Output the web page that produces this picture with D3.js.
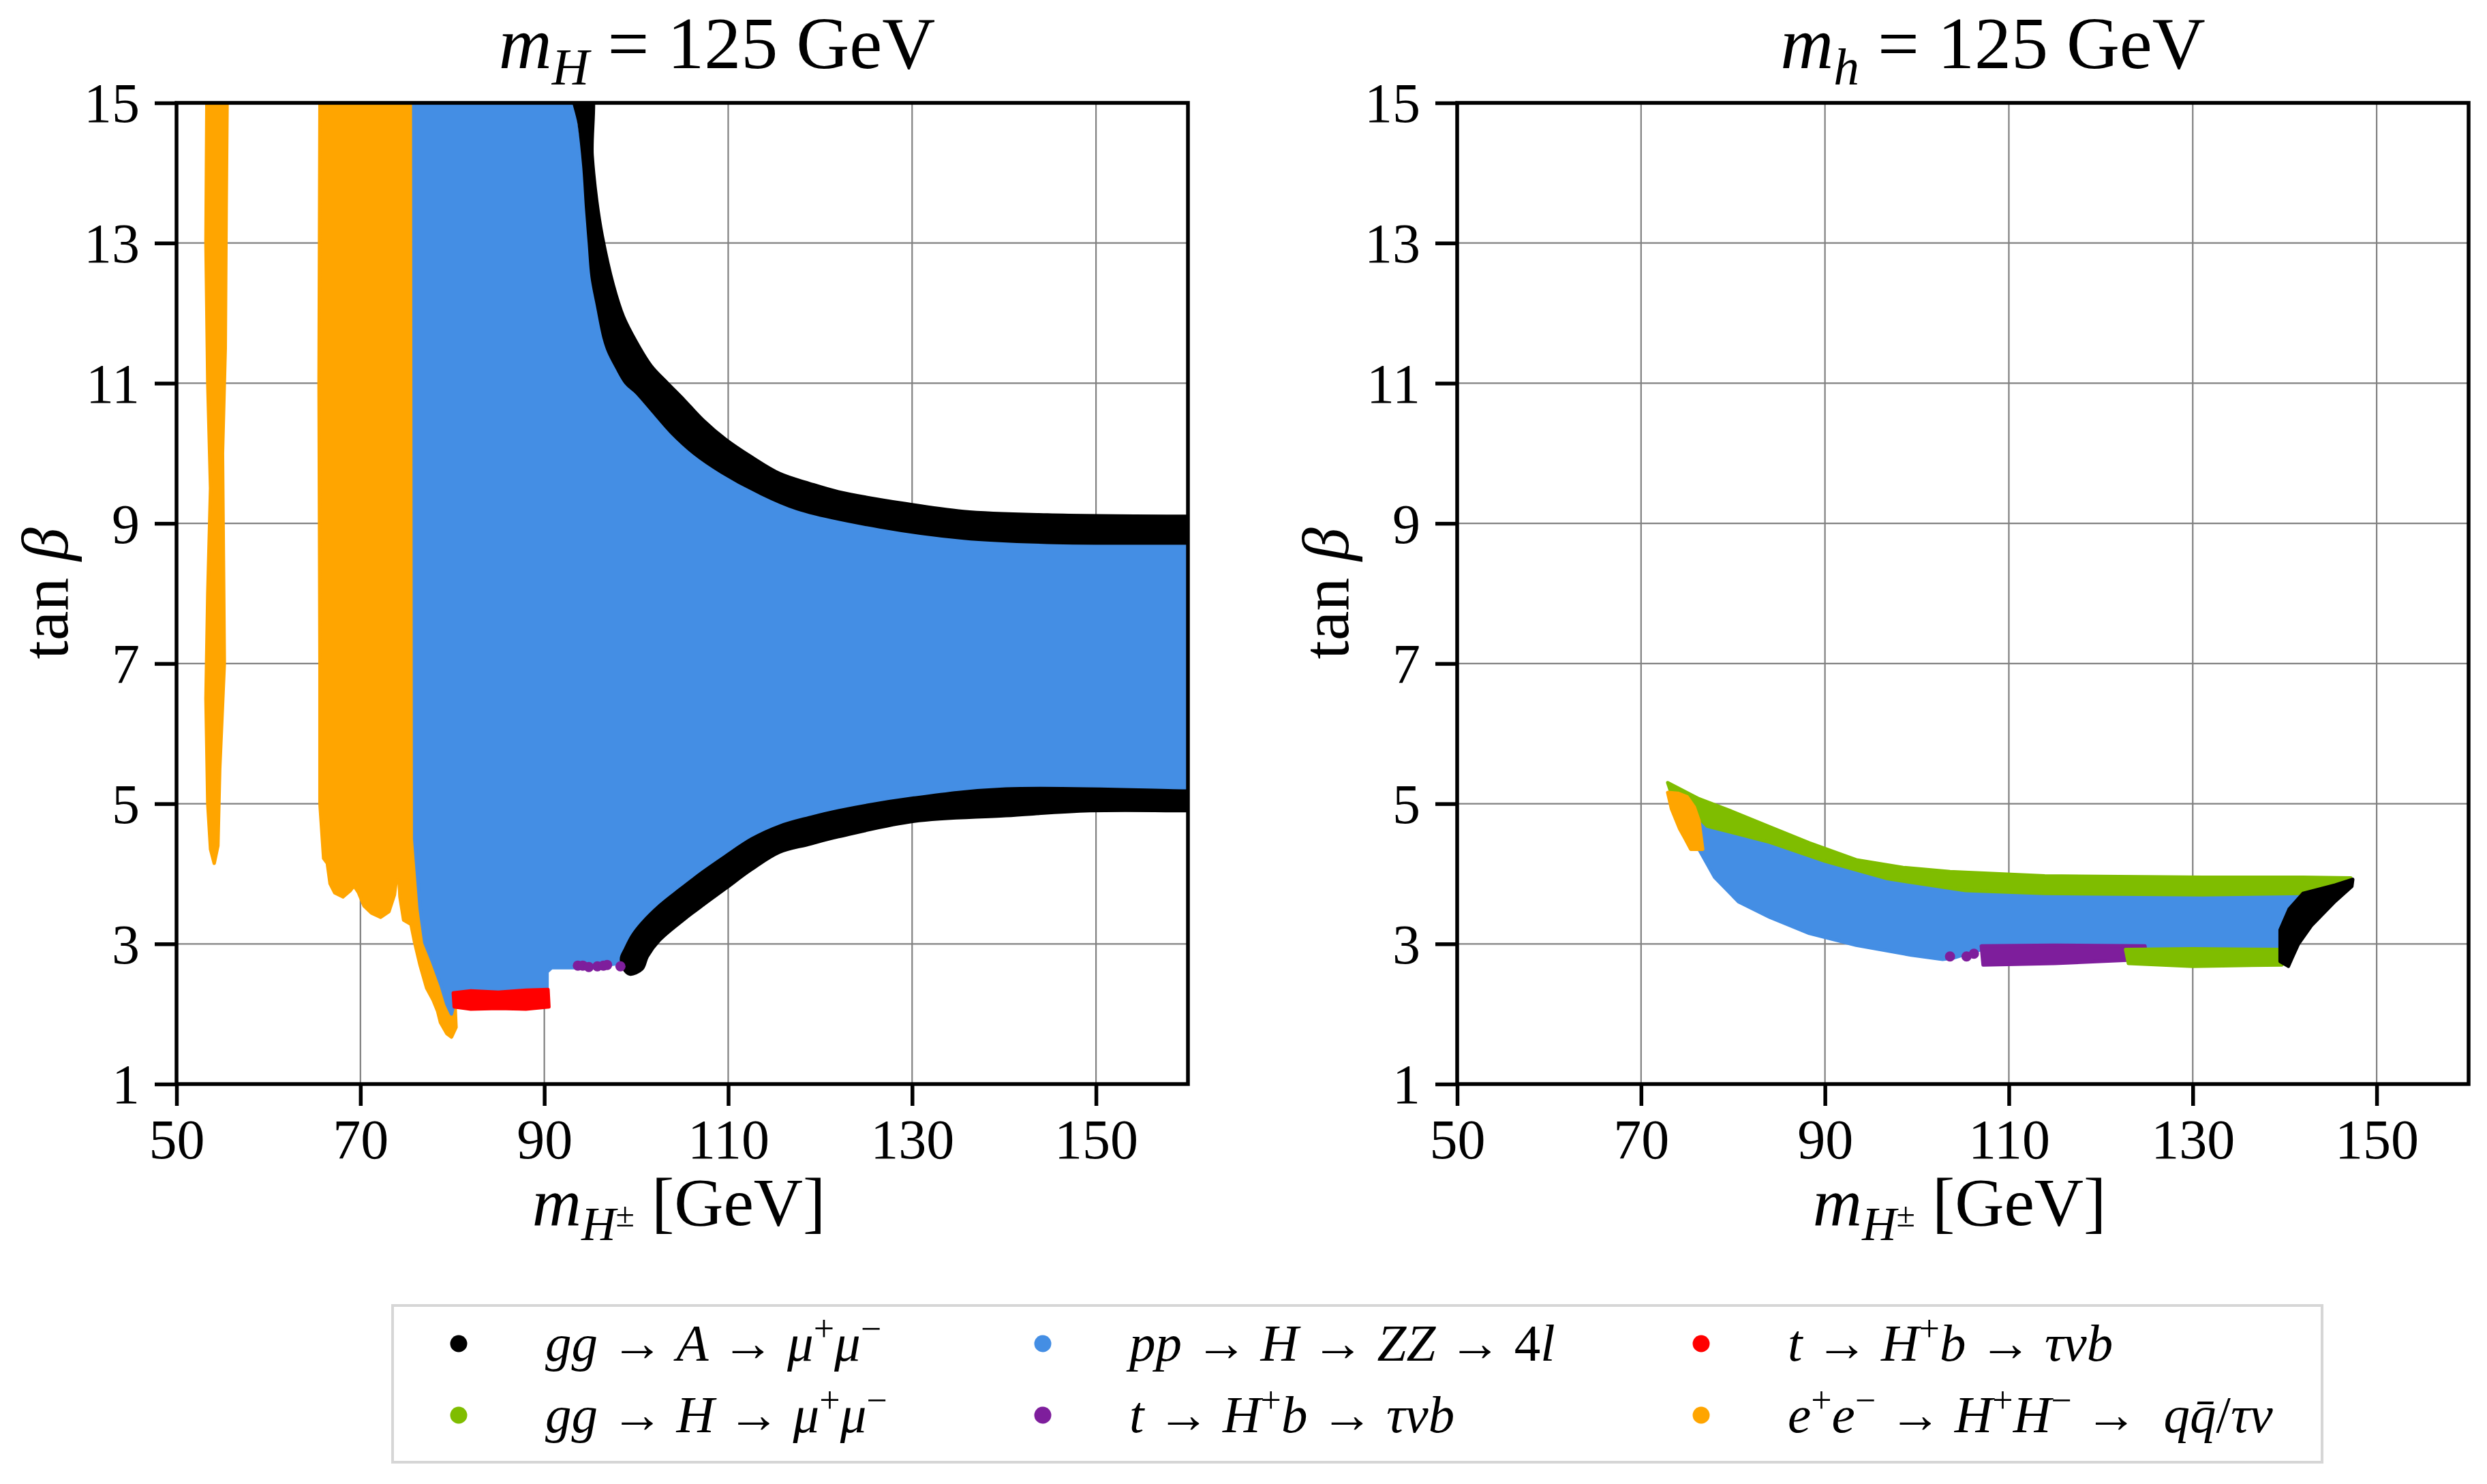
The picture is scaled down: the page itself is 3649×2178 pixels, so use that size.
<!DOCTYPE html>
<html>
<head>
<meta charset="utf-8">
<script src="https://cdn.jsdelivr.net/npm/d3@7"></script>
<style>
  body { margin: 0; background: #fff; }
  text { font-family: "Liberation Serif", "DejaVu Serif", serif; fill: #000; }
</style>
</head>
<body>
<svg id="chart" width="3649" height="2178"></svg>
<script>
// ---- data ----
let xTicks = [50, 70, 90, 110, 130, 150];
let yTicks = [1, 3, 5, 7, 9, 11, 13, 15];

// series: colour per process
let seriesColors = {
  ggA: '#000000',
  ggH: '#7fbd00',
  ppH: '#448ee4',
  tauRed: '#ff0000',
  tauPurple: '#7e1e9c',
  eeHH: '#ffa500'
};

// left panel (m_H = 125 GeV), region outlines [m_H±, tan beta]
let leftOrangeStrip = [[53.3,15],[53.2,13],[53.4,11],[53.7,9.5],[53.4,8],[53.2,6.5],[53.4,5],[53.7,4.35],[54.1,4.15],
  [54.5,4.4],[54.7,5.5],[55.2,7],[55.1,8.5],[55.0,10],[55.3,11.5],[55.4,13.5],[55.5,15]];
let leftOrangeBlock = [[65.6,15],[65.5,11],[65.6,7],[65.6,5],[66.0,4.22],[66.4,4.15],[66.7,3.86],[67.2,3.73],[68.1,3.67],
  [68.9,3.76],[69.3,3.83],[69.8,3.73],[70.4,3.54],[71.2,3.44],[72.2,3.38],[73.1,3.46],[73.7,3.7],[73.9,3.91],[74.2,3.9],
  [74.3,3.67],[74.7,3.34],[75.5,3.28],[75.9,3.02],[76.5,2.69],[77.2,2.37],[77.9,2.2],[78.4,2.04],[78.7,1.88],[79.4,1.72],
  [79.9,1.67],[80.4,1.81],[80.3,2.1],[79.5,2.4],[78.0,3.0],[76.6,3.8],[76.1,5],[76.1,15]];
let leftBlue = [[75.8,15],[93.1,15],[94.0,14.2],[94.7,13.37],[95.2,12.5],[96.5,11.63],[97.9,11.2],[100,10.85],[103.8,10.33],
  [109.3,9.71],[117.5,9.19],[126.5,8.93],[135.6,8.77],[144.7,8.71],[160,8.71],[160,5.2],[140.2,5.23],[130.2,5.1],[122,4.92],
  [115.6,4.7],[109.7,4.27],[104.7,3.79],[102.6,3.6],[100.6,3.31],[98.8,2.92],[98.2,2.72],[94,2.66],[90.8,2.66],[90.3,2.6],
  [90.3,2.3],[80.4,2.25],[79.9,2.0],[79.4,2.14],[78.8,2.4],[77.8,2.76],[77,3.02],[76.5,3.5],[75.9,4.5]];
let leftBlackUpper = [[93.0,15.3],[94.9,15.3],[95.2,14.25],[95.7,13.6],[96.3,13.1],[97.5,12.4],[98.6,11.95],[99.95,11.6],
  [101.6,11.25],[103.4,11.0],[105.2,10.76],[107.3,10.47],[109.7,10.2],[112.5,9.95],[115.6,9.71],[118.8,9.57],[122,9.45],
  [129.3,9.28],[135.6,9.17],[144.7,9.12],[160,9.1],[162,9.1],[162,8.72],[160,8.72],[144.7,8.73],[135.6,8.79],[126.5,8.95],
  [117.5,9.21],[113.2,9.45],[109.3,9.73],[106.3,10.0],[103.8,10.3],[101.8,10.6],[100,10.87],[98.9,11.0],[97.9,11.22],
  [97.0,11.45],[96.5,11.65],[95.8,12.1],[95.2,12.52],[94.9,13.0],[94.6,13.5],[94.3,14.1],[93.8,14.7]];
let leftBlackLower = [[162,4.9],[160,4.9],[149.3,4.9],[140.2,4.83],[130.2,4.75],[122,4.53],[118.7,4.42],[115.6,4.31],
  [112.5,4.06],[109.7,3.79],[107.3,3.56],[105.2,3.35],[102.5,3.05],[101.2,2.82],[100.6,2.64],[99.3,2.57],[98.6,2.66],
  [98.4,2.8],[98.8,2.92],[99.6,3.12],[100.6,3.29],[102.6,3.55],[104.7,3.77],[107.2,4.02],[109.7,4.25],[112.6,4.5],
  [115.6,4.68],[118.8,4.8],[122,4.9],[130.2,5.08],[140.2,5.21],[160,5.18],[162,5.18]];
let leftRed = [[80.1,2.3],[82,2.33],[85,2.31],[88,2.34],[90.4,2.35],[90.5,2.1],[88,2.07],[85,2.08],[82,2.07],[80.2,2.1]];
let leftPurplePoints = [[93.65,2.69],[94.18,2.69],[94.84,2.67],[95.77,2.68],[96.43,2.69],[96.83,2.7],[98.28,2.68]];

// right panel (m_h = 125 GeV)
let rightGreenUpper = [[72.9,5.3],[76.3,5.07],[79.7,4.9],[84,4.67],[88.3,4.44],[93.4,4.2],[98.5,4.09],[103.6,4.03],
  [113.9,3.97],[131,3.95],[142,3.95],[147.2,3.94],[142,3.72],[131,3.7],[113.9,3.72],[105.3,3.76],[96.8,3.93],[90,4.18],
  [84,4.45],[77.2,4.68],[75.5,4.9],[73.4,5.1]];
let rightBlue = [[76.3,4.75],[84,4.5],[90,4.22],[96.8,3.97],[105.3,3.8],[113.9,3.76],[131,3.74],[142.3,3.76],[141,3.4],
  [140,3.1],[139.5,2.92],[124.5,2.95],[115,2.95],[107,2.92],[104,2.8],[102.8,2.78],[99.4,2.84],[93.4,2.98],[88.3,3.15],
  [84,3.38],[80.6,3.6],[78,3.95],[76.3,4.35]];
let rightPurple = [[107,2.97],[115,2.98],[124.8,2.97],[125,2.78],[115,2.72],[107.2,2.7]];
let rightPurplePoints = [[103.6,2.82],[105.4,2.82],[106.2,2.86]];
let rightGreenLower = [[122.7,2.92],[130,2.93],[139.5,2.92],[139.7,2.7],[130,2.68],[123,2.72]];
let rightBlack = [[139.5,2.75],[139.5,3.2],[140.5,3.5],[142,3.72],[145.5,3.84],[147.4,3.92],[147.3,3.82],[145.5,3.61],
  [142.9,3.26],[141.5,3.0],[140.8,2.8],[140.4,2.68]];
let rightOrange = [[72.9,5.16],[74,5.15],[75,5.1],[75.8,4.95],[76.3,4.76],[76.7,4.35],[75.4,4.35],[74.8,4.5],[74.2,4.64],[73.3,4.93]];

// legend (matplotlib ncol=3, filled column by column)
let legendKeys = ['ggA', 'ggH', 'ppH', 'tauPurple', 'tauRed', 'eeHH'];
let legendLabels = [
  [['gg',1],[' → ',0],['A',1],[' → ',0],['μ',1],['+',0,'sup'],['μ',1],['−',0,'sup']],
  [['gg',1],[' → ',0],['H',1],[' → ',0],['μ',1],['+',0,'sup'],['μ',1],['−',0,'sup']],
  [['pp',1],[' → ',0],['H',1],[' → ',0],['ZZ',1],[' → ',0],['4',0],['l',1]],
  [['t',1],[' → ',0],['H',1],['+',0,'sup'],['b',1],[' → ',0],['τνb',1]],
  [['t',1],[' → ',0],['H',1],['+',0,'sup'],['b',1],[' → ',0],['τνb',1]],
  [['e',1],['+',0,'sup'],['e',1],['−',0,'sup'],[' → ',0],['H',1],['+',0,'sup'],['H',1],['−',0,'sup'],[' →  ',0],['q',1],['q̄',1],['/',0],['τν',1]]
];

// ---- drawing ----
let svg = d3.select('#chart');

// add a run of math-ish text made of [text, italic, shift] parts
let mathText = (sel, parts, size) => {
  let cur = 0;
  parts.forEach((p) => {
    let shift = 0, fs = size;
    if (p[2] === 'sup') { shift = -0.38 * size; fs = size * 0.7; }
    if (p[2] === 'sub') { shift = 0.22 * size; fs = size * 0.7; }
    if (p[2] === 'subsup') { shift = 0.02 * size; fs = size * 0.5; }
    sel.append('tspan')
      .attr('dy', shift - cur)
      .style('font-style', p[1] ? 'italic' : 'normal')
      .style('font-size', fs + 'px')
      .style('white-space', 'pre')
      .text(p[0]);
    cur = shift;
  });
};

let panels = [
  { x0: 259, title: [['m',1],['H',1,'sub'],[' = 125 GeV',0]], titleX: 1052,
    layers: [
      { d: leftOrangeStrip, c: 'eeHH' }, { d: leftOrangeBlock, c: 'eeHH' }, { d: leftBlue, c: 'ppH' },
      { d: leftBlackUpper, c: 'ggA', smooth: true }, { d: leftBlackLower, c: 'ggA', smooth: true }, { d: leftRed, c: 'tauRed' }
    ],
    points: [{ d: leftPurplePoints, c: 'tauPurple' }] },
  { x0: 2138, title: [['m',1],['h',1,'sub'],[' = 125 GeV',0]], titleX: 2924,
    layers: [
      { d: rightBlue, c: 'ppH' }, { d: rightGreenUpper, c: 'ggH' }, { d: rightPurple, c: 'tauPurple' },
      { d: rightGreenLower, c: 'ggH' }, { d: rightBlack, c: 'ggA' }, { d: rightOrange, c: 'eeHH' }
    ],
    points: [{ d: rightPurplePoints, c: 'tauPurple' }] }
];

let W = 1484, H = 1440, plotTop = 151;

panels.forEach((p, i) => {
  let x = d3.scaleLinear().domain([50, 160]).range([p.x0, p.x0 + W]);
  let y = d3.scaleLinear().domain([1, 15]).range([plotTop + H, plotTop]);
  let g = svg.append('g');

  // grid
  g.selectAll('.gx').data(xTicks).enter().append('line')
    .attr('x1', (d) => x(d)).attr('x2', (d) => x(d)).attr('y1', plotTop).attr('y2', plotTop + H)
    .attr('stroke', '#808080').attr('stroke-width', 2.2);
  g.selectAll('.gy').data(yTicks).enter().append('line')
    .attr('x1', p.x0).attr('x2', p.x0 + W).attr('y1', (d) => y(d)).attr('y2', (d) => y(d))
    .attr('stroke', '#808080').attr('stroke-width', 2.2);

  // regions
  let clipId = 'clip' + i;
  svg.append('clipPath').attr('id', clipId).append('rect')
    .attr('x', p.x0).attr('y', plotTop).attr('width', W).attr('height', H);
  let area = g.append('g').attr('clip-path', 'url(#' + clipId + ')');
  let line = d3.line().x((d) => x(d[0])).y((d) => y(d[1])).curve(d3.curveLinearClosed);
  let smoothLine = d3.line().x((d) => x(d[0])).y((d) => y(d[1])).curve(d3.curveCatmullRomClosed.alpha(0.5));
  area.selectAll('.region').data(p.layers).enter().append('path')
    .attr('d', (d) => (d.smooth ? smoothLine : line)(d.d))
    .attr('fill', (d) => seriesColors[d.c])
    .attr('stroke', (d) => seriesColors[d.c])
    .attr('stroke-width', 5)
    .attr('stroke-linejoin', 'round');
  p.points.forEach((s) => {
    area.selectAll(null).data(s.d).enter().append('circle')
      .attr('cx', (d) => x(d[0])).attr('cy', (d) => y(d[1])).attr('r', 7.5)
      .attr('fill', seriesColors[s.c]);
  });

  // axes
  let xAxis = d3.axisBottom(x).tickValues(xTicks).tickSize(32).tickPadding(18).tickFormat(d3.format('d'));
  let yAxis = d3.axisLeft(y).tickValues(yTicks).tickSize(32).tickPadding(22).tickFormat(d3.format('d'));
  let gx = g.append('g').attr('transform', 'translate(0,' + (plotTop + H) + ')').call(xAxis);
  let gy = g.append('g').attr('transform', 'translate(' + p.x0 + ',0)').call(yAxis);
  [gx, gy].forEach((a) => {
    a.select('.domain').remove();
    a.selectAll('.tick line').attr('stroke', '#000').attr('stroke-width', 5.5);
    a.selectAll('.tick text').style('font-size', '82px').style('font-family', '"Liberation Serif", serif');
  });
  gy.selectAll('.tick text').attr('dy', '0.34em');
  gx.selectAll('.tick text').attr('dy', '0.72em');

  // frame
  g.append('rect').attr('x', p.x0).attr('y', plotTop).attr('width', W).attr('height', H)
    .attr('fill', 'none').attr('stroke', '#000').attr('stroke-width', 5.5);

  // title
  let t = g.append('text').attr('x', p.titleX).attr('y', 100).attr('text-anchor', 'middle');
  mathText(t, p.title, 108);

  // x label
  let xl = g.append('text').attr('x', p.x0 + W / 2 - 5).attr('y', 1798).attr('text-anchor', 'middle');
  mathText(xl, [['m',1],['H',1,'sub'],['±',0,'subsup'],[' [GeV]',0]], 100);

  // y label
  let yl = g.append('text').attr('transform', 'translate(' + (p.x0 - 160) + ',' + (plotTop + H / 2) + ') rotate(-90)')
    .attr('text-anchor', 'middle');
  mathText(yl, [['tan ',0],['β',1]], 98);
});

// legend
let lg = svg.append('g');
lg.append('rect').attr('x', 576).attr('y', 1916).attr('width', 2831).attr('height', 230)
  .attr('fill', '#fff').attr('stroke', '#d6d6d6').attr('stroke-width', 4);
let colX = [673, 1530, 2496];
let rowY = [1972, 2077];
legendKeys.forEach((k, i) => {
  let cx = colX[Math.floor(i / 2)], cy = rowY[i % 2];
  lg.append('circle').attr('cx', cx).attr('cy', cy).attr('r', 12.5).attr('fill', seriesColors[k]);
  let t = lg.append('text').attr('x', cx + 127).attr('y', cy + 25);
  mathText(t, legendLabels[i], 77);
});
</script>
</body>
</html>
